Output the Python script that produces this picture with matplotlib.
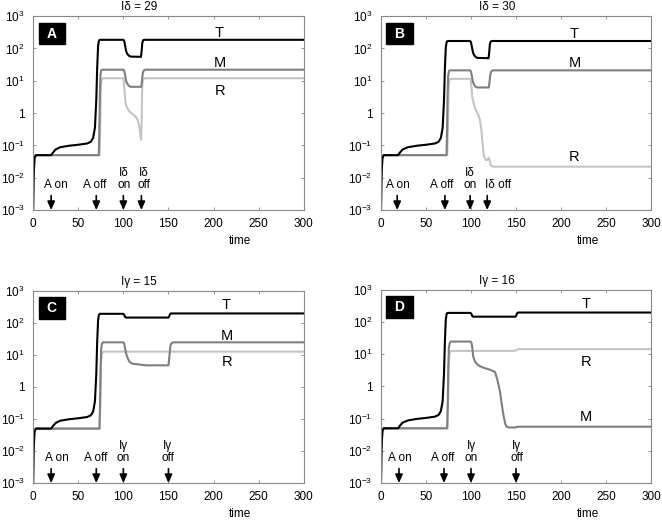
import matplotlib.pyplot as plt
from matplotlib.patches import Rectangle
from matplotlib.ticker import NullLocator

plt.rcParams['font.family'] = ['Liberation Sans', 'DejaVu Sans']
plt.rcParams['mathtext.default'] = 'regular'

# ---- panel A : I delta = 29
tA_T = [0, 0.5, 1.5, 3, 20, 22, 25, 30, 40, 50, 60, 64, 66.5, 68.5, 70, 71, 72, 73, 74,
        100, 101, 102, 103, 104, 106, 108, 119.5, 120.2, 121, 122, 123.5, 300]
yA_T = [1e-3, 0.01, 0.04, 0.05, 0.05, 0.06, 0.075, 0.088, 0.098, 0.105, 0.115, 0.13, 0.17, 0.35,
        2.5, 25, 120, 175, 185, 185, 170, 120, 85, 70, 60, 56, 55, 80, 150, 180, 185, 185]
tA_M = [0, 0.5, 1.5, 3, 72.8, 73.4, 74, 74.6, 75.5, 76.5, 100, 101, 102, 103, 104.5, 106, 108,
        119.8, 120.6, 121.5, 122.5, 124, 300]
yA_M = [1e-3, 0.01, 0.04, 0.05, 0.05, 0.3, 4, 15, 21, 22, 22, 20, 15, 10, 8, 7, 6.5,
        6.5, 10, 17, 20.5, 22, 22]
tA_R = [0, 0.5, 1.5, 3, 73.6, 74.4, 75, 75.7, 76.5, 78, 100, 100.8, 101.5, 102.5, 104, 107,
        111, 114, 116, 117.5, 118.8, 119.7, 120.3, 120.8, 121.5, 122.5, 124, 300]
yA_R = [1e-3, 0.01, 0.04, 0.05, 0.05, 0.4, 5, 10, 11.5, 12, 12, 8, 4, 2, 1.5, 1.1,
        0.9, 0.75, 0.6, 0.4, 0.22, 0.15, 0.5, 5, 10, 11.5, 12, 12]

# ---- panel B : I delta = 30
tB_T = [0, 0.5, 1.5, 3, 19, 21, 24, 30, 40, 50, 60, 64, 66.5, 68.5, 70, 71, 72, 73, 74,
        99, 100, 101, 102, 103, 105, 107, 119.5, 120.2, 121, 122, 123.5, 300]
yB_T = [1e-3, 0.01, 0.04, 0.05, 0.05, 0.06, 0.075, 0.088, 0.098, 0.105, 0.115, 0.13, 0.17, 0.35,
        2.5, 25, 110, 160, 170, 170, 155, 110, 80, 65, 55, 51, 50, 75, 140, 165, 170, 170]
tB_M = [0, 0.5, 1.5, 3, 72.8, 73.4, 74, 74.6, 75.5, 76.5, 99, 100, 101, 102, 103.5, 105, 107,
        119.8, 120.6, 121.5, 122.5, 124, 300]
yB_M = [1e-3, 0.01, 0.04, 0.05, 0.05, 0.3, 4, 14, 20, 21, 21, 19, 14, 9.5, 7.5, 6.6, 6.2,
        6.2, 9.5, 16, 19.5, 21, 21]
tB_R = [0, 0.5, 1.5, 3, 73.6, 74.4, 75, 75.7, 76.5, 78, 99.5, 100.5, 101.5, 103, 105, 108,
        110, 111.5, 113, 114.5, 116.5, 118, 119.5, 120.5, 122, 124, 300]
yB_R = [1e-3, 0.01, 0.04, 0.05, 0.05, 0.4, 5, 9.5, 11, 11.5, 11.5, 6, 3, 2, 1.3, 0.9,
        0.6, 0.3, 0.1, 0.045, 0.035, 0.036, 0.042, 0.035, 0.024, 0.022, 0.022]

# ---- panel C : I gamma = 15
tC_T = [0, 0.5, 1.5, 3, 20, 22, 25, 30, 40, 50, 60, 64, 66.5, 68.5, 70, 71, 72, 73, 74,
        100, 101, 102, 103, 150, 151, 152, 153, 300]
yC_T = [1e-3, 0.01, 0.04, 0.05, 0.05, 0.06, 0.075, 0.088, 0.098, 0.105, 0.115, 0.13, 0.17, 0.35,
        2.5, 25, 120, 180, 190, 190, 175, 150, 145, 145, 165, 190, 195, 195]
tC_M = [0, 0.5, 1.5, 3, 73.5, 74.2, 74.8, 75.4, 76.3, 77.5, 100, 101, 102, 103.5, 105,
        107, 110, 125, 150, 151, 152, 153, 155, 300]
yC_M = [1e-3, 0.01, 0.04, 0.05, 0.05, 0.3, 4, 15, 22, 24.5, 24.5, 22, 15, 10, 7.6,
        6, 5.3, 4.7, 4.7, 9, 18, 22.5, 24.5, 24.5]
tC_R = [0, 0.5, 1.5, 3, 73.8, 74.5, 75.2, 76, 77, 78.5, 300]
yC_R = [1e-3, 0.01, 0.04, 0.05, 0.05, 0.4, 5, 10, 12, 12.6, 12.6]

# ---- panel D : I gamma = 16
tD_T = [0, 0.5, 1.5, 3, 19, 21, 24, 30, 40, 50, 60, 64, 66.5, 68.5, 70, 71, 72, 73, 74,
        99.5, 100.5, 101.5, 102.5, 149.5, 150.5, 151.5, 152.5, 300]
yD_T = [1e-3, 0.01, 0.04, 0.05, 0.05, 0.06, 0.075, 0.088, 0.098, 0.105, 0.115, 0.13, 0.17, 0.35,
        2.5, 25, 120, 180, 190, 190, 175, 150, 145, 145, 165, 190, 195, 195]
tD_M = [0, 0.5, 1.5, 3, 73.5, 74.2, 74.8, 75.4, 76.3, 77.5, 99.5, 100.6, 101.5, 102.4, 104.4,
        107, 110, 115, 121, 126.7, 129.3, 132.2, 134, 136, 138, 139.6, 142, 149, 152, 300]
yD_M = [1e-3, 0.01, 0.04, 0.05, 0.05, 0.3, 4, 15, 22, 24.5, 24.5, 22, 15, 8.5, 5.9,
        4.8, 4.2, 3.7, 3.3, 2.8, 1.6, 0.69, 0.3, 0.13, 0.07, 0.056, 0.053, 0.053, 0.056, 0.056]
tD_R = [0, 0.5, 1.5, 3, 73.8, 74.5, 75.2, 76, 77, 78.5, 147, 149, 151, 153, 300]
yD_R = [1e-3, 0.01, 0.04, 0.05, 0.05, 0.4, 5, 10, 12, 12.6, 12.6, 12.8, 13.8, 14.3, 14.3]

# event arrows and labels
arrowsA = [20, 70, 100, 120]
labelsA = [('A on', 25), ('A off', 68), ('I\u03b4\non', 101), ('I\u03b4\noff', 123)]
arrowsB = [18, 71, 99, 118]
labelsB = [('A on', 19), ('A off', 67), ('I\u03b4\non', 99), ('I\u03b4 off', 130)]
arrowsC = [20, 70, 100, 150]
labelsC = [('A on', 26), ('A off', 69), ('I\u03b3\non', 100), ('I\u03b3\noff', 149)]
arrowsD = [20, 70, 100, 150]
labelsD = [('A on', 21), ('A off', 69), ('I\u03b3\non', 100), ('I\u03b3\noff', 151)]

# curve name labels (x, y)
namesA = [('T', 206, 300), ('M', 207, 35), ('R', 207, 4.9)]
namesB = [('T', 215, 280), ('M', 215, 35), ('R', 214, 0.044)]
namesC = [('T', 214, 370), ('M', 215, 40), ('R', 215, 5.9)]
namesD = [('T', 228, 370), ('R', 228, 5.9), ('M', 228, 0.11)]

yticks = [1e-3, 1e-2, 1e-1, 1, 1e1, 1e2, 1e3]
yticklabels = ['$10^{-3}$', '$10^{-2}$', '$10^{-1}$', '1', '$10^{1}$', '$10^{2}$', '$10^{3}$']
xticks = [0, 50, 100, 150, 200, 250, 300]

fig = plt.figure(figsize=(6.62, 5.2), dpi=100)

panels = [
    ([0.050, 0.596, 0.409, 0.373], 'A', 'I\u03b4 = 29', 0.39,
     (tA_T, yA_T), (tA_M, yA_M), (tA_R, yA_R), arrowsA, labelsA, namesA),
    ([0.5755, 0.596, 0.408, 0.373], 'B', 'I\u03b4 = 30', 0.43,
     (tB_T, yB_T), (tB_M, yB_M), (tB_R, yB_R), arrowsB, labelsB, namesB),
    ([0.050, 0.071, 0.409, 0.370], 'C', 'I\u03b3 = 15', 0.39,
     (tC_T, yC_T), (tC_M, yC_M), (tC_R, yC_R), arrowsC, labelsC, namesC),
    ([0.5755, 0.071, 0.408, 0.372], 'D', 'I\u03b3 = 16', 0.43,
     (tD_T, yD_T), (tD_M, yD_M), (tD_R, yD_R), arrowsD, labelsD, namesD),
]

for pos, letter, title, tx, T, M, R, arrows, labels, names in panels:
    ax = fig.add_axes(pos)
    ax.plot(R[0], R[1], color='#c4c4c4', lw=1.5)
    ax.plot(M[0], M[1], color='#7f7f7f', lw=1.5)
    ax.plot(T[0], T[1], color='k', lw=1.5)
    ax.set_yscale('log')
    ax.set_xlim(0, 300)
    ax.set_ylim(1e-3, 1e3)
    ax.set_xticks(xticks)
    ax.set_yticks(yticks)
    ax.set_yticklabels(yticklabels)
    ax.yaxis.set_minor_locator(NullLocator())
    ax.tick_params(which='both', direction='in', top=True, right=True, length=2.5,
                   width=0.6, color='#888888', labelsize=8.5, pad=6)
    for sp in ax.spines.values():
        sp.set_color('#888888')
        sp.set_linewidth(0.8)

    for t in arrows:
        ax.annotate('', xy=(t, 1e-3), xytext=(t, 2.8e-3),
                    arrowprops=dict(arrowstyle='-|>,head_width=0.22,head_length=0.5',
                                    color='k', lw=1.2, shrinkA=0, shrinkB=0))
    for txt, x in labels:
        ax.text(x, 3.9e-3, txt, ha='center', va='bottom', fontsize=8.5, linespacing=1.0)

    for name, x, y in names:
        ax.text(x, y, name, ha='center', va='center', fontsize=10.5)

    ax.add_patch(Rectangle((0.02, 0.855), 0.097, 0.11, transform=ax.transAxes,
                           color='k', zorder=5))
    ax.text(0.0685, 0.91, letter, transform=ax.transAxes, ha='center', va='center',
            color='w', fontsize=10, fontweight='bold', zorder=6)

    ax.text(tx, 1.045, title, transform=ax.transAxes, ha='center', va='center', fontsize=8.5)
    ax.text(0.765, -0.16, 'time', transform=ax.transAxes, ha='center', va='center',
            fontsize=8.5)

fig.savefig('out.png', dpi=100)
